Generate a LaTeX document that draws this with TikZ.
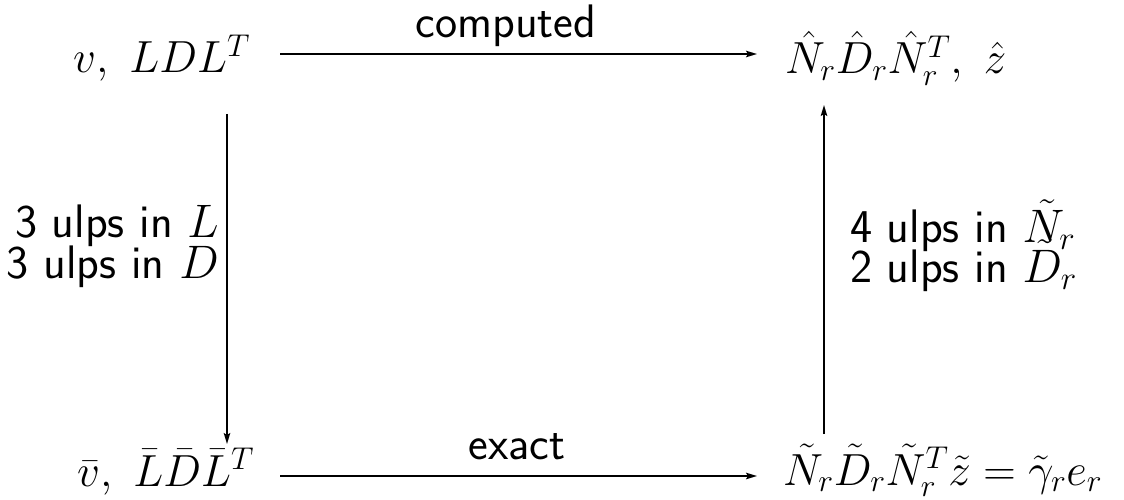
\documentclass[tikz,border=0pt]{standalone}
\usepackage{fix-cm}
\usetikzlibrary{arrows.meta}
\begin{document}
\begin{tikzpicture}[x=1pt,y=-1pt,
  every node/.style={inner sep=0pt,font=\fontsize{45}{41}\selectfont},
  term/.style={anchor=base west},
  lbl/.style={font=\fontsize{47}{41}\selectfont\sffamily},
  arr/.style={line width=1.8pt,-{Stealth[length=11pt,width=6.5pt,inset=2pt]}}]
\useasboundingbox (0,0) rectangle (1124,500);
% terms
\node[term] (TL) at (73,73) {$v,\ LDL^T$};
\node[term] (TR) at (785,74) {$\hat N_r\hat D_r\hat N_r^T,\ \hat z$};
\node[term] (BL) at (77,486) {$\bar v,\ \bar L\bar D\bar L^T$};
\node[term] (BR) at (783,485) {$\tilde N_r\tilde D_r{\tilde N_r}^T\tilde z=\tilde\gamma_r e_r$};
% connector ends
\coordinate (t1) at (280,54);
\coordinate (t2) at (757,54);
\coordinate (b1) at (280,476);
\coordinate (b2) at (757,476);
\coordinate (l1) at (227,114);
\coordinate (l2) at (227,444);
\coordinate (r1) at (824,434);
\coordinate (r2) at (824,105);
% connectors
\draw[arr] (t1) -- (t2);
\draw[arr] (b1) -- (b2);
\draw[arr] (l1) -- (l2);
\draw[arr] (r1) -- (r2);
% labels
\node[lbl,anchor=base] (comp) at (506,38) {computed};
\node[lbl,anchor=base] (exact) at (517,459) {exact};
\node[lbl,anchor=base east] (la) at (219,237) {3 ulps in $L$};
\node[lbl,anchor=base east] (lb) at (219,278) {3 ulps in $D$};
\node[lbl,anchor=base west] (ra) at (850,242) {4 ulps in $\tilde N_r$};
\node[lbl,anchor=base west] (rb) at (850,282) {2 ulps in $\tilde D_r$};
\end{tikzpicture}
\end{document}
